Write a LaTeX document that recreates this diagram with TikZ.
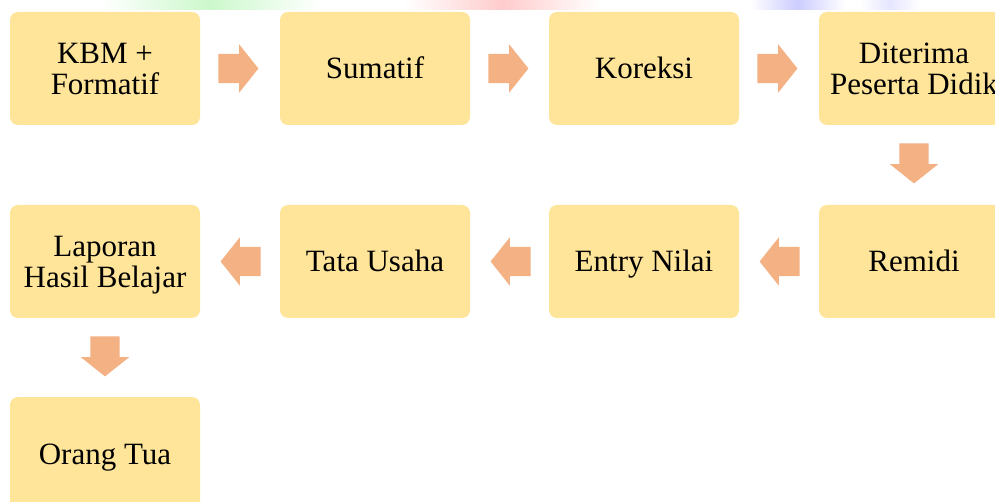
\documentclass[tikz,border=0pt]{standalone}
\usepackage{fontspec}
\setmainfont{Liberation Serif}
\usetikzlibrary{shapes.arrows,calc}
\definecolor{boxyellow}{HTML}{FFE599}
\definecolor{arrowor}{HTML}{F4B183}
\definecolor{bggreen}{HTML}{CCF8CC}
\definecolor{bgpink}{HTML}{FFCCCC}
\definecolor{bgblue}{HTML}{CCCCFF}
\newcommand\capline[1]{\raisebox{0pt}[21pt][0pt]{#1}}
\tikzset{
  stepbox/.style={rectangle, rounded corners=8pt, fill=boxyellow, draw=none,
    minimum width=190pt, minimum height=113pt, inner sep=0pt, align=center,
    font=\fontsize{31}{31}\selectfont},
  blockarrow/.style={single arrow, fill=arrowor, draw=none, inner sep=0pt,
    text width=0pt, text height=14.5pt, text depth=14.5pt,
    minimum height=40pt, single arrow head extend=9.5pt,
    single arrow tip angle=103, anchor=tail},
}
\begin{document}
\begin{tikzpicture}[x=1pt,y=-1pt]
\useasboundingbox (0,0) rectangle (995,502);
\clip (0,0) rectangle (995,502);
\fill[white] (0,0) rectangle (995,502);
% faint blurred background strip at top
\shade[left color=white, right color=white, middle color=bggreen] (100,0) rectangle (320,10);
\shade[left color=white, right color=white, middle color=bgpink] (405,0) rectangle (600,10);
\shade[left color=white, right color=white, middle color=bgblue] (750,0) rectangle (845,10);
\shade[left color=white, right color=white, middle color=bgblue!50] (860,0) rectangle (920,10);
% boxes
\node[stepbox] (b1) at (105,68.5) {\capline{KBM +}\\\capline{Formatif}};
\node[stepbox] (b2) at (375,68.5) {\capline{Sumatif}};
\node[stepbox] (b3) at (644,68.5) {\capline{Koreksi}};
\node[stepbox] (b4) at (914,68.5) {\capline{Diterima}\\\capline{Peserta Didik}};
\node[stepbox] (b5) at (914,261.5) {\capline{Remidi}};
\node[stepbox] (b6) at (644,261.5) {\capline{Entry Nilai}};
\node[stepbox] (b7) at (375,261.5) {\capline{Tata Usaha}};
\node[stepbox] (b8) at (105,261.5) {\capline{Laporan}\\\capline{Hasil Belajar}};
\node[stepbox] (b9) at (105,453.5) {\capline{Orang Tua}};
% arrows
\node[blockarrow] (a1) at ($(b1.east)+(18,0)$) {};
\node[blockarrow] (a2) at ($(b2.east)+(18,0)$) {};
\node[blockarrow] (a3) at ($(b3.east)+(18,0)$) {};
\node[blockarrow, rotate=-90] (a4) at ($(b4.south)+(0,18)$) {};
\node[blockarrow, rotate=180] (a5) at ($(b5.west)+(-19,0)$) {};
\node[blockarrow, rotate=180] (a6) at ($(b6.west)+(-18,0)$) {};
\node[blockarrow, rotate=180] (a7) at ($(b7.west)+(-19,0)$) {};
\node[blockarrow, rotate=-90] (a8) at ($(b8.south)+(0,18)$) {};
\end{tikzpicture}
\end{document}
